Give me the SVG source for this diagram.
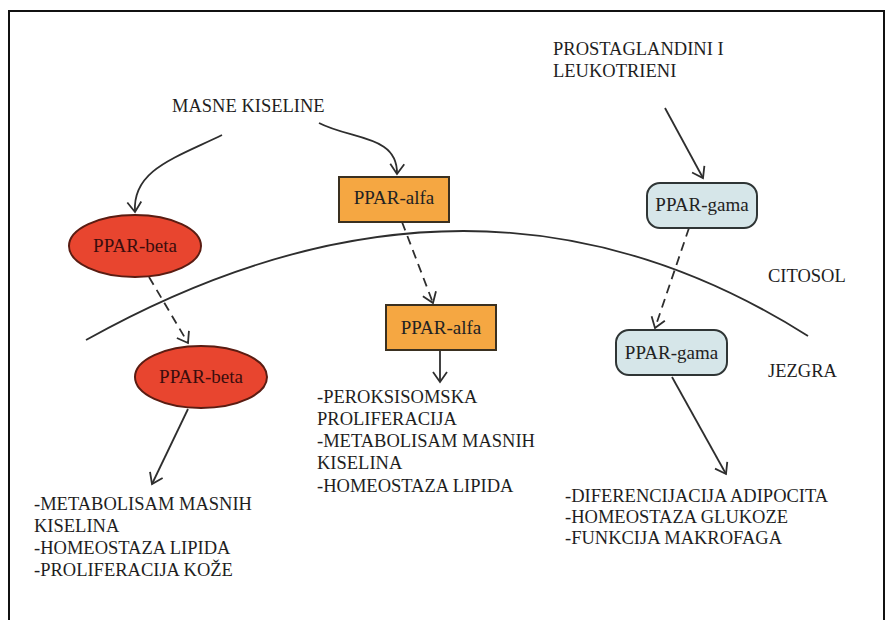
<svg xmlns="http://www.w3.org/2000/svg" width="889" height="620" viewBox="0 0 889 620">
<defs>
<style>
.t{font-family:"Liberation Serif","Times New Roman",serif;font-size:18.5px;fill:#1e1e1e}
.lbl{font-family:"Liberation Serif","Times New Roman",serif;font-size:19px;fill:#222;text-anchor:middle}
.c{fill:none;stroke:#2e2e2e;stroke-width:1.8}
.d{stroke-dasharray:9 6}
.beta{fill:#E8452F;stroke:#5a1c12;stroke-width:2}
.alfa{fill:#F5A742;stroke:#3a3020;stroke-width:2}
.gama{fill:#D6E6E9;stroke:#2f3535;stroke-width:2}
</style>
<marker id="a" markerUnits="userSpaceOnUse" markerWidth="24" markerHeight="24" viewBox="-12 -12 24 24" refX="0" refY="0" orient="auto">
<path d="M-10,-7 L0,0 L-10,7" fill="none" stroke="#2e2e2e" stroke-width="1.8"/>
</marker>
</defs>
<rect width="889" height="620" fill="#fff"/>
<rect x="9" y="11" width="875" height="625" fill="none" stroke="#111" stroke-width="2"/>

<g id="membrane">
<path class="c" d="M86,340 Q473,124 808,336"/>
</g>

<g id="labels">
<text class="t" x="172" y="112">MASNE KISELINE</text>
<text class="t" x="553" y="55">PROSTAGLANDINI I</text>
<text class="t" x="553" y="77">LEUKOTRIENI</text>
<text class="t" x="768" y="282">CITOSOL</text>
<text class="t" x="768" y="377">JEZGRA</text>
</g>

<g id="connectors">
<path class="c" d="M222,135 C175,158 132,170 135,212" marker-end="url(#a)"/>
<path class="c" d="M319,123 C352,140 398,135 397,174" marker-end="url(#a)"/>
<path class="c" d="M665,108 L703,178" marker-end="url(#a)"/>
<path class="c d" d="M149,277 L188,343" marker-end="url(#a)"/>
<path class="c d" d="M402,222 L433,303" marker-end="url(#a)"/>
<path class="c d" d="M689,228 L655,328" marker-end="url(#a)"/>
<path class="c" d="M188,409 L152,484" marker-end="url(#a)"/>
<path class="c" d="M440,350 L440,382" marker-end="url(#a)"/>
<path class="c" d="M672,377 L726,474" marker-end="url(#a)"/>
</g>

<g id="ppar-beta-cyt">
<ellipse class="beta" cx="135" cy="246" rx="66" ry="31"/>
<text class="lbl" x="135" y="252" style="fill:#3a0d0d">PPAR-beta</text>
</g>
<g id="ppar-beta-nuc">
<ellipse class="beta" cx="201" cy="377" rx="66" ry="31"/>
<text class="lbl" x="201" y="383" style="fill:#3a0d0d">PPAR-beta</text>
</g>
<g id="ppar-alfa-cyt">
<rect class="alfa" x="339" y="177" width="110" height="45"/>
<text class="lbl" x="394" y="204">PPAR-alfa</text>
</g>
<g id="ppar-alfa-nuc">
<rect class="alfa" x="386" y="305" width="110" height="45"/>
<text class="lbl" x="441" y="334">PPAR-alfa</text>
</g>
<g id="ppar-gama-cyt">
<rect class="gama" x="647" y="183" width="110" height="45" rx="13"/>
<text class="lbl" x="702" y="211">PPAR-gama</text>
</g>
<g id="ppar-gama-nuc">
<rect class="gama" x="616" y="330" width="111" height="45" rx="13"/>
<text class="lbl" x="671.5" y="359">PPAR-gama</text>
</g>

<g id="effects-beta">
<text class="t" x="34" y="510">-METABOLISAM MASNIH</text>
<text class="t" x="34" y="532">KISELINA</text>
<text class="t" x="34" y="554">-HOMEOSTAZA LIPIDA</text>
<text class="t" x="34" y="576">-PROLIFERACIJA KOŽE</text>
</g>
<g id="effects-alfa">
<text class="t" x="317" y="403">-PEROKSISOMSKA</text>
<text class="t" x="317" y="425">PROLIFERACIJA</text>
<text class="t" x="317" y="447">-METABOLISAM MASNIH</text>
<text class="t" x="317" y="469">KISELINA</text>
<text class="t" x="317" y="492">-HOMEOSTAZA LIPIDA</text>
</g>
<g id="effects-gama">
<text class="t" x="565" y="502">-DIFERENCIJACIJA ADIPOCITA</text>
<text class="t" x="565" y="523">-HOMEOSTAZA GLUKOZE</text>
<text class="t" x="565" y="544">-FUNKCIJA MAKROFAGA</text>
</g>
</svg>
